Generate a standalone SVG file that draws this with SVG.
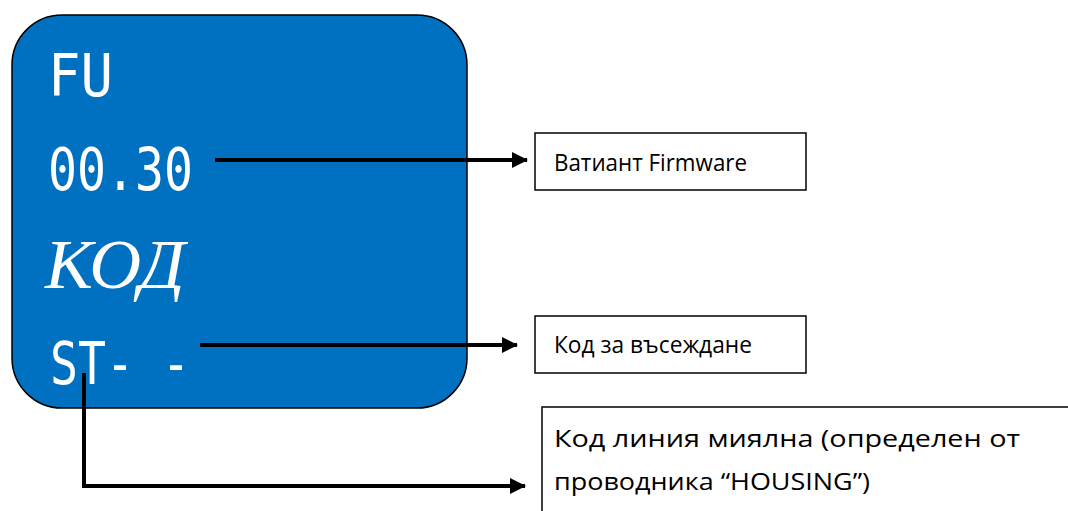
<svg xmlns="http://www.w3.org/2000/svg" width="1068" height="511" viewBox="0 0 1068 511">
<defs>
<style>
.lcd{font-family:"DejaVu Sans Mono",monospace;fill:#fff;font-size:58px}
.lbl{font-family:"Open Sans","Liberation Sans",sans-serif;font-size:24px;fill:#000}
.box{fill:#fff;stroke:#000;stroke-width:1.5}
.con{fill:none;stroke:#000;stroke-width:4}
</style>
<marker id="ah" markerWidth="16" markerHeight="16" viewBox="0 0 16 16" refX="15" refY="8" orient="auto" markerUnits="userSpaceOnUse">
<path d="M0,0 L16,8 L0,16 Z" fill="#000"/>
</marker>
</defs>
<g id="display">
<rect x="12" y="15" width="455" height="393" rx="50" ry="50" fill="#0070C0" stroke="#000" stroke-width="1.5"/>
<text class="lcd" x="48" y="96" textLength="65" lengthAdjust="spacingAndGlyphs">FU</text>
<text class="lcd" x="48" y="190" textLength="145" lengthAdjust="spacingAndGlyphs">00.30</text>
<text x="45" y="288" font-family="Liberation Serif,serif" font-style="italic" font-size="70" fill="#fff" textLength="140" lengthAdjust="spacingAndGlyphs">КОД</text>
<text class="lcd" x="50" y="384" textLength="140" lengthAdjust="spacingAndGlyphs">ST- -</text>
</g>
<g id="connectors">
<path class="con" d="M215,160 L527,160" marker-end="url(#ah)"/>
<path class="con" d="M200,345 L517,345" marker-end="url(#ah)"/>
<path class="con" d="M84,373 L84,486 L525,486" marker-end="url(#ah)"/>
</g>
<g id="n-firmware">
<rect class="box" x="535" y="133" width="271" height="57"/>
<text class="lbl" x="554" y="171" textLength="193" lengthAdjust="spacingAndGlyphs">Ватиант Firmware</text>
</g>
<g id="n-code">
<rect class="box" x="535" y="316" width="271" height="57"/>
<text class="lbl" x="554" y="353" textLength="198" lengthAdjust="spacingAndGlyphs">Код за въсеждане</text>
</g>
<g id="n-line">
<rect class="box" x="542" y="407" width="540" height="120"/>
<text class="lbl" x="554" y="447" textLength="466" lengthAdjust="spacingAndGlyphs">Код линия миялна (определен от</text>
<text class="lbl" x="554" y="490" textLength="316" lengthAdjust="spacingAndGlyphs">проводника “HOUSING”)</text>
</g>
</svg>
